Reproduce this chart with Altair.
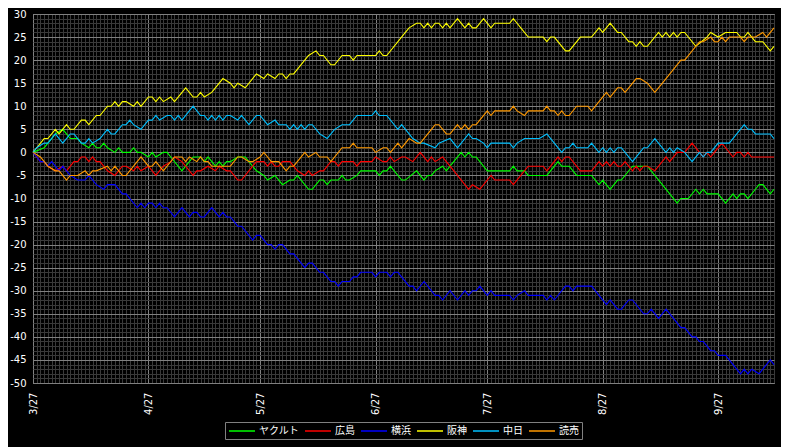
import altair as alt
import pandas as pd

# 2008年 セ・リーグ 貯金の推移（3/27 からの経過日数, 貯金）
TEAMS = ["ヤクルト", "広島", "横浜", "阪神", "中日", "読売"]
COLORS = ["#00ff00", "#ff0000", "#0000ff", "#ffff00", "#00c0ff", "#ff9900"]

YAKULT = [(0, 0), (3, 1), (4, 2), (5, 3), (6, 4), (8, 5), (10, 3), (12, 3), (13, 2), (15, 1), (16, 2), (17, 1),
          (18, 1), (19, 2), (20, 1), (22, 0), (23, 1), (24, 0), (26, 0), (27, 1), (28, 0), (29, 0), (31, -1),
          (32, 0), (33, -1), (35, 0), (36, 0), (37, -1), (40, -4), (41, -3), (43, -1), (45, -1), (46, -2),
          (47, -1), (49, -3), (50, -2), (51, -3), (52, -2), (53, -2), (55, -1), (57, -1), (58, -2), (60, -4),
          (62, -5), (63, -6), (65, -5), (66, -6), (67, -7), (69, -6), (70, -6), (71, -5), (72, -6), (74, -8),
          (75, -8), (77, -6), (78, -6), (79, -7), (80, -6), (82, -6), (83, -5), (84, -6), (85, -6), (87, -5),
          (88, -4), (92, -4), (93, -5), (94, -4), (95, -4), (96, -3), (97, -4), (99, -6), (100, -6), (103, -4),
          (104, -5), (105, -6), (106, -5), (107, -5), (108, -4), (110, -3), (111, -4), (112, -3), (115, 0),
          (116, -1), (117, 0), (118, -1), (119, -1), (122, -4), (124, -4), (128, -4), (129, -3), (130, -4),
          (132, -4), (133, -5), (138, -5), (141, -2), (142, -3), (144, -3), (146, -5), (150, -5), (152, -7),
          (153, -6), (155, -8), (157, -6), (158, -6), (161, -3), (163, -3), (165, -3), (166, -4), (169, -7),
          (173, -11), (174, -10), (176, -10), (178, -8), (179, -9), (180, -8), (181, -9), (184, -9), (186, -11),
          (188, -9), (189, -10), (190, -9), (191, -9), (192, -10), (194, -8), (195, -7), (196, -7), (198, -9),
          (199, -8)]

HIROSHIMA = [(0, 0), (1, -1), (2, -2), (3, -2), (4, -3), (6, -4), (8, -3), (9, -4), (11, -2), (12, -2), (13, -1),
             (14, -1), (15, -2), (16, -1), (17, -2), (18, -2), (20, -4), (22, -5), (23, -4), (24, -3), (25, -3),
             (27, -4), (28, -3), (29, -4), (31, -3), (33, -5), (35, -3), (37, -2), (38, -1), (40, -2), (41, -3),
             (43, -5), (44, -4), (45, -4), (47, -3), (49, -4), (50, -3), (52, -4), (53, -4), (55, -6), (56, -6),
             (59, -3), (60, -2), (62, -2), (63, -3), (64, -2), (65, -3), (66, -3), (67, -2), (69, -2), (70, -3),
             (71, -4), (73, -5), (74, -4), (75, -5), (77, -4), (78, -4), (80, -2), (81, -2), (82, -3), (83, -2),
             (86, -2), (87, -3), (88, -2), (91, -2), (92, -1), (94, -2), (95, -2), (96, -1), (97, -2), (99, -1),
             (100, -1), (102, -2), (104, 0), (106, -2), (107, -1), (108, -2), (110, -1), (111, -2), (112, -3),
             (117, -8), (118, -7), (120, -8), (123, -5), (124, -6), (128, -6), (129, -7), (131, -5), (133, -3),
             (137, -3), (138, -4), (141, -1), (142, -2), (143, -1), (144, -1), (147, -4), (150, -4), (152, -2),
             (153, -3), (154, -2), (155, -3), (156, -2), (157, -3), (158, -3), (159, -2), (160, -3), (161, -4),
             (162, -3), (163, -4), (164, -3), (165, -3), (167, -4), (170, -1), (171, -2), (173, 0), (175, 0),
             (177, 2), (179, 0), (180, -1), (181, 0), (182, -1), (183, 0), (185, 2), (188, -1), (189, 0), (190, 0),
             (191, -1), (192, 0), (193, -1), (199, -1)]

YOKOHAMA = [(0, 0), (1, -1), (2, -2), (3, -2), (4, -3), (5, -2), (6, -3), (7, -4), (8, -3), (9, -4), (10, -5),
            (12, -6), (14, -6), (15, -5), (17, -7), (19, -8), (20, -7), (22, -7), (24, -9), (25, -9), (28, -12),
            (29, -11), (30, -12), (31, -11), (32, -11), (33, -12), (34, -11), (35, -12), (36, -12), (38, -14),
            (40, -12), (41, -13), (42, -14), (43, -13), (44, -13), (45, -14), (46, -14), (48, -12), (50, -14),
            (51, -13), (52, -14), (53, -14), (55, -16), (56, -16), (59, -19), (60, -18), (61, -18), (63, -20),
            (64, -20), (65, -21), (66, -20), (67, -20), (69, -22), (70, -22), (73, -25), (74, -24), (75, -24),
            (77, -26), (78, -26), (80, -28), (81, -28), (82, -29), (83, -28), (85, -28), (86, -27), (87, -27),
            (88, -26), (91, -26), (92, -27), (93, -26), (95, -26), (96, -27), (97, -26), (98, -26), (101, -29),
            (102, -29), (103, -30), (105, -28), (108, -31), (109, -31), (110, -32), (112, -30), (114, -32),
            (116, -30), (117, -31), (118, -30), (119, -30), (120, -29), (122, -31), (123, -30), (124, -31),
            (128, -31), (129, -32), (130, -31), (132, -30), (133, -31), (137, -31), (138, -32), (139, -31),
            (140, -32), (143, -29), (144, -29), (145, -30), (146, -29), (150, -29), (154, -33), (155, -32),
            (157, -34), (158, -34), (160, -32), (161, -32), (164, -35), (165, -35), (166, -34), (168, -36),
            (170, -34), (174, -38), (175, -38), (177, -40), (178, -40), (179, -41), (180, -41), (182, -43),
            (183, -43), (184, -44), (186, -44), (190, -48), (191, -47), (192, -48), (193, -47), (195, -48),
            (198, -45), (199, -46)]

HANSHIN = [(0, 0), (1, 1), (3, 3), (4, 3), (6, 5), (7, 4), (9, 6), (10, 5), (11, 5), (13, 7), (14, 7), (15, 6),
           (17, 8), (18, 8), (20, 10), (21, 10), (22, 11), (23, 10), (24, 11), (25, 11), (27, 10), (28, 11),
           (29, 10), (31, 12), (32, 12), (33, 11), (34, 12), (35, 11), (37, 12), (38, 11), (41, 14), (43, 12),
           (44, 12), (45, 13), (46, 12), (48, 13), (51, 16), (53, 15), (54, 14), (55, 15), (57, 14), (60, 17),
           (62, 16), (63, 17), (65, 16), (66, 17), (67, 17), (68, 16), (69, 17), (70, 17), (74, 21), (76, 22),
           (77, 21), (78, 21), (80, 19), (81, 19), (83, 21), (85, 21), (86, 20), (87, 21), (92, 21), (93, 22),
           (94, 21), (95, 21), (100, 26), (101, 27), (103, 28), (104, 28), (105, 27), (106, 28), (107, 27),
           (108, 28), (109, 28), (110, 27), (111, 28), (112, 27), (114, 29), (116, 27), (117, 28), (118, 27),
           (119, 27), (121, 29), (123, 27), (124, 28), (128, 28), (129, 29), (130, 28), (131, 27), (133, 25),
           (137, 25), (138, 24), (139, 25), (140, 25), (143, 22), (144, 22), (147, 25), (150, 25), (152, 27),
           (153, 26), (155, 28), (157, 26), (158, 26), (160, 24), (161, 24), (162, 23), (163, 24), (164, 23),
           (165, 23), (168, 26), (169, 25), (170, 26), (171, 25), (172, 26), (173, 25), (174, 26), (175, 26),
           (178, 23), (181, 25), (182, 26), (184, 25), (186, 26), (189, 26), (190, 25), (191, 25), (192, 26),
           (194, 24), (196, 24), (198, 22), (199, 23)]

CHUNICHI = [(0, 0), (1, 1), (3, 2), (4, 2), (6, 4), (8, 2), (10, 4), (11, 4), (13, 2), (14, 2), (15, 3), (16, 2),
            (18, 3), (20, 5), (21, 4), (22, 4), (24, 6), (25, 6), (26, 7), (27, 6), (29, 5), (31, 7), (32, 7),
            (33, 8), (34, 7), (36, 8), (37, 8), (38, 7), (39, 8), (40, 7), (43, 10), (45, 8), (46, 8), (47, 7),
            (48, 8), (49, 7), (50, 8), (51, 7), (52, 8), (53, 8), (55, 7), (56, 8), (58, 6), (60, 8), (61, 8),
            (63, 6), (65, 7), (66, 6), (68, 6), (69, 5), (70, 6), (71, 5), (72, 6), (73, 5), (74, 6), (75, 6),
            (77, 4), (79, 3), (81, 5), (83, 6), (85, 6), (87, 8), (91, 8), (92, 9), (93, 8), (95, 8), (98, 5),
            (99, 6), (101, 4), (102, 3), (104, 2), (105, 2), (108, 1), (109, 2), (112, 3), (114, 1), (117, 4),
            (118, 3), (119, 3), (121, 2), (122, 1), (123, 2), (124, 2), (128, 2), (129, 1), (130, 2), (132, 3),
            (136, 3), (138, 4), (140, 2), (142, 0), (143, 1), (144, 1), (145, 2), (146, 1), (149, 1), (150, 2),
            (152, 0), (153, 1), (154, 0), (155, 1), (156, 0), (157, 1), (158, 1), (161, -2), (163, 0), (164, 1),
            (165, 1), (167, 3), (170, 0), (171, 1), (172, 0), (173, 1), (175, 0), (177, -2), (179, 0), (180, -1),
            (181, 0), (182, 0), (184, 2), (187, 2), (189, 4), (191, 6), (192, 5), (193, 5), (194, 4), (198, 4),
            (199, 3)]

YOMIURI = [(0, 0), (2, -1), (4, -3), (6, -4), (7, -4), (9, -6), (10, -5), (12, -5), (14, -4), (15, -5), (16, -4),
           (17, -4), (20, -3), (21, -4), (22, -3), (24, -5), (25, -5), (29, -1), (31, -3), (32, -3), (33, -2),
           (35, -4), (38, -1), (40, -1), (41, -2), (42, -1), (44, -2), (45, -1), (46, -2), (47, -2), (48, -3),
           (50, -3), (53, -3), (55, -1), (56, -1), (58, -2), (59, -2), (61, -1), (62, 0), (63, -1), (64, -2),
           (66, -2), (68, -4), (69, -3), (70, -3), (73, 0), (74, -1), (76, 0), (77, -1), (79, -1), (80, -2),
           (83, 1), (85, 1), (86, 2), (87, 1), (91, 1), (92, 0), (94, 1), (95, 1), (96, 0), (98, 2), (99, 1),
           (101, 3), (103, 2), (104, 2), (107, 5), (108, 6), (109, 6), (111, 4), (112, 4), (114, 6), (115, 5),
           (116, 6), (117, 5), (118, 6), (119, 6), (122, 9), (123, 8), (124, 9), (128, 9), (129, 10), (130, 9),
           (132, 8), (133, 9), (137, 9), (138, 10), (139, 9), (140, 9), (141, 8), (142, 9), (143, 8), (144, 8),
           (146, 10), (149, 10), (150, 9), (152, 11), (154, 13), (155, 12), (157, 14), (158, 14), (159, 13),
           (160, 14), (162, 16), (163, 16), (165, 15), (167, 13), (170, 16), (172, 18), (174, 20), (175, 20),
           (179, 24), (180, 24), (182, 25), (183, 24), (184, 24), (185, 25), (186, 24), (187, 25), (190, 25),
           (191, 24), (192, 25), (194, 25), (196, 26), (197, 25), (199, 27)]

SERIES = [YAKULT, HIROSHIMA, YOKOHAMA, HANSHIN, CHUNICHI, YOMIURI]

df = pd.DataFrame(
    [{"球団": team, "日": d, "貯金": v} for team, pts in zip(TEAMS, SERIES) for d, v in pts]
)

# 3/27 からの経過日数 → 日付
DAY = "datetime(2008, 2, 27 + datum.value)"
MAJOR_X = f"date({DAY}) == 27"
MAJOR_Y = "datum.value % 5 == 0"
FONT = "DejaVu Sans"

x_axis = alt.Axis(
    values=list(range(0, 200)),
    labelExpr=f"{MAJOR_X} ? timeFormat({DAY}, '%-m/%d') : ''",
    labelAngle=270,
    labelAlign="right",
    labelBaseline="middle",
    labelPadding=9,
    labelColor="white",
    labelFont=FONT,
    labelFontSize=10,
    labelOverlap=False,
    labelFlush=False,
    labelBound=False,
    ticks=False,
    tickSize=0,
    domain=False,
    gridColor={"condition": {"test": MAJOR_X, "value": "#808080"}, "value": "#3a3a3a"},
    gridOpacity=1,
    title=None,
)

y_axis = alt.Axis(
    values=list(range(-50, 31)),
    labelExpr=f"{MAJOR_Y} ? '' + datum.value : ''",
    labelPadding=7,
    labelColor="white",
    labelFont=FONT,
    labelFontSize=10,
    labelOverlap=False,
    labelFlush=False,
    labelBound=False,
    ticks=False,
    tickSize=0,
    domain=False,
    gridColor={"condition": {"test": MAJOR_Y, "value": "#808080"}, "value": "#3a3a3a"},
    gridOpacity=1,
    title=None,
)

# 凡例の線: 小さな記号枠に長い線を描く（行の高さを抑えるため）
LEGEND_LINE = "M-2.6,0H2.6"

chart = (
    alt.Chart(df)
    .mark_line(strokeWidth=1.1, interpolate="linear")
    .encode(
        x=alt.X("日:Q", scale=alt.Scale(domain=[0, 199], nice=False, zero=False), axis=x_axis),
        y=alt.Y("貯金:Q", scale=alt.Scale(domain=[-50, 30], nice=False), axis=y_axis),
        color=alt.Color(
            "球団:N",
            scale=alt.Scale(domain=TEAMS, range=COLORS),
            legend=alt.Legend(
                orient="none",
                legendX=192,
                legendY=408,
                direction="horizontal",
                title=None,
                strokeColor="#808080",
                padding=3,
                symbolType=LEGEND_LINE,
                symbolSize=100,
                symbolOffset=8,
                symbolStrokeWidth=1.5,
                labelColor="white",
                labelFont="Noto Sans CJK JP",
                labelFontSize=10,
                labelOffset=11,
                columnPadding=3,
            ),
        ),
        order=alt.Order("日:Q"),
    )
    .properties(
        width=741,
        height=369,
        background="#000000",
        autosize=alt.AutoSizeParams(type="none"),
        padding={"left": 25, "top": 6, "right": 7, "bottom": 64},
    )
    .configure_view(stroke="#b0b0b0", strokeWidth=1, fill="#000000")
)

chart.save("out.html", embed_options={"renderer": "svg", "actions": False})
